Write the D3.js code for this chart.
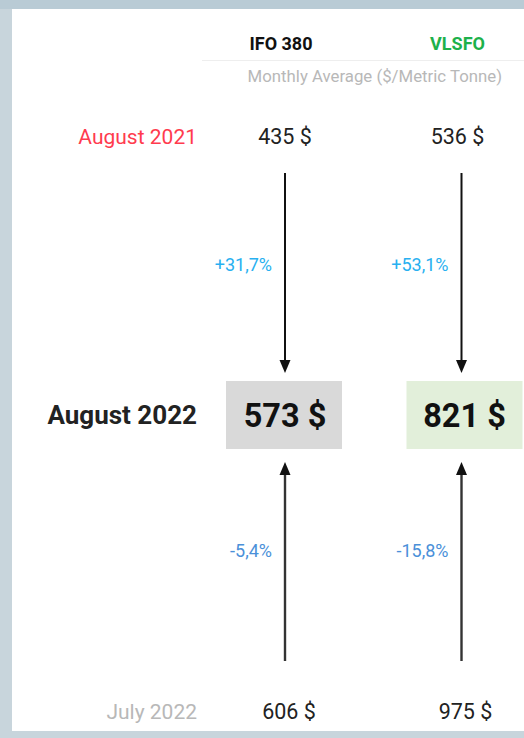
<!DOCTYPE html>
<html>
<head>
<meta charset="utf-8">
<script src="https://cdn.jsdelivr.net/npm/d3@7"></script>
<style>
  html, body { margin: 0; padding: 0; background: #c8d5dc; }
  svg { display: block; font-family: Roboto, "Open Sans", sans-serif; }
</style>
</head>
<body>
<div id="chart"></div>
<script>
var fuels = ['IFO 380', 'VLSFO'];
var fuelColors = ['#111111', '#1db14b'];
var periods = ['August 2021', 'August 2022', 'July 2022'];
var ifoPrices = [435, 573, 606];
var vlsfoPrices = [536, 821, 975];
var changeFromLastYear = ['+31,7%', '+53,1%'];
var changeFromLastMonth = ['-5,4%', '-15,8%'];
var subtitle = 'Monthly Average ($/Metric Tonne)';

(function() {
  var width = 524, height = 738;
  var svg = d3.select('#chart').append('svg')
    .attr('width', width).attr('height', height);

  // background + white card
  svg.append('rect').attr('width', width).attr('height', height).attr('fill', '#c8d5dc');
  svg.append('rect').attr('x', 0).attr('y', 0).attr('width', width).attr('height', 9).attr('fill', '#b9cbd5');
  svg.append('rect').attr('x', 12).attr('y', 9).attr('width', width - 12).attr('height', 722).attr('fill', '#fff');

  // column centres (arrow lines) and row centres
  var x = d3.scaleBand().domain(fuels).range([197, 550]);
  var cx = function(f) { return x(f) + 88; };
  var y = d3.scaleOrdinal().domain(periods).range([136, 415, 711]);

  var prices = [ifoPrices, vlsfoPrices];

  // header
  var g = svg.append('g');
  g.selectAll('.fuel').data(fuels).enter().append('text')
    .attr('x', function(d) { return cx(d) - 4; })
    .attr('y', 50)
    .attr('text-anchor', 'middle')
    .attr('font-size', 18).attr('font-weight', 700)
    .attr('fill', function(d, i) { return fuelColors[i]; })
    .text(function(d) { return d; });

  g.append('line').attr('x1', 202).attr('x2', width).attr('y1', 60.5).attr('y2', 60.5)
    .attr('stroke', '#eeeeee').attr('stroke-width', 1);

  g.append('text').attr('x', 502).attr('y', 82).attr('text-anchor', 'end')
    .attr('font-size', 16.8).attr('fill', '#b8b8b8').text(subtitle);

  // row labels
  var rowStyle = [
    { size: 21, weight: 400, color: '#ff3b4e' },
    { size: 26, weight: 700, color: '#222222' },
    { size: 21, weight: 400, color: '#b8b8b8' }
  ];
  g.selectAll('.period').data(periods).enter().append('text')
    .attr('x', 197)
    .attr('y', function(d) { return y(d); })
    .attr('dy', '0.36em')
    .attr('text-anchor', 'end')
    .attr('font-size', function(d, i) { return rowStyle[i].size; })
    .attr('font-weight', function(d, i) { return rowStyle[i].weight; })
    .attr('fill', function(d, i) { return rowStyle[i].color; })
    .text(function(d) { return d; });

  var boxFill = ['#d9d9d9', '#e2efda'];
  var boxW = 116, boxH = 68;

  function arrowHead(sel, tipX, tipY, dir) {
    // dir = 1 points down, -1 points up
    sel.append('path')
      .attr('d', 'M' + tipX + ',' + tipY +
        'L' + (tipX - 5.5) + ',' + (tipY - dir * 13) +
        'L' + (tipX + 5.5) + ',' + (tipY - dir * 13) + 'Z')
      .attr('fill', '#111');
  }

  fuels.forEach(function(f, i) {
    var col = svg.append('g');
    var mx = cx(f);
    var yMid = y(periods[1]);

    // highlighted box for current month
    col.append('rect')
      .attr('x', mx - boxW / 2 + (i === 0 ? -1 : 3))
      .attr('y', yMid - boxH / 2)
      .attr('width', boxW).attr('height', boxH)
      .attr('fill', boxFill[i]);

    col.append('text')
      .attr('x', mx + (i === 0 ? 0 : 3)).attr('y', yMid)
      .attr('dy', '0.36em').attr('text-anchor', 'middle')
      .attr('font-size', 32.5).attr('font-weight', 700).attr('fill', '#111')
      .text(prices[i][1] + ' $');

    col.append('text')
      .attr('x', mx - (i === 0 ? 0 : 4)).attr('y', y(periods[0]))
      .attr('dy', '0.36em').attr('text-anchor', 'middle')
      .attr('font-size', 21.5).attr('fill', '#222')
      .text(prices[i][0] + ' $');

    col.append('text')
      .attr('x', mx + 4).attr('y', y(periods[2]))
      .attr('dy', '0.36em').attr('text-anchor', 'middle')
      .attr('font-size', 21.5).attr('fill', '#222')
      .text(prices[i][2] + ' $');

    // arrows
    var topStart = y(periods[0]) + 37, topTip = yMid - boxH / 2 - 8;
    var botStart = y(periods[2]) - 50, botTip = yMid + boxH / 2 + 13;

    col.append('line')
      .attr('x1', mx).attr('x2', mx)
      .attr('y1', topStart).attr('y2', topTip - 8)
      .attr('stroke', '#111').attr('stroke-width', 2);
    arrowHead(col, mx, topTip, 1);

    col.append('line')
      .attr('x1', mx).attr('x2', mx)
      .attr('y1', botStart).attr('y2', botTip + 8)
      .attr('stroke', '#333').attr('stroke-width', 2.4);
    arrowHead(col, mx, botTip, -1);

    col.append('text')
      .attr('x', mx - 13).attr('y', (topStart + topTip) / 2 - 8)
      .attr('dy', '0.36em').attr('text-anchor', 'end')
      .attr('font-size', 18).attr('fill', '#28b0f0')
      .text(changeFromLastYear[i]);

    col.append('text')
      .attr('x', mx - 13).attr('y', (botStart + botTip) / 2 - 11)
      .attr('dy', '0.36em').attr('text-anchor', 'end')
      .attr('font-size', 18).attr('fill', '#4a90d9')
      .text(changeFromLastMonth[i]);
  });
})();
</script>
</body>
</html>
